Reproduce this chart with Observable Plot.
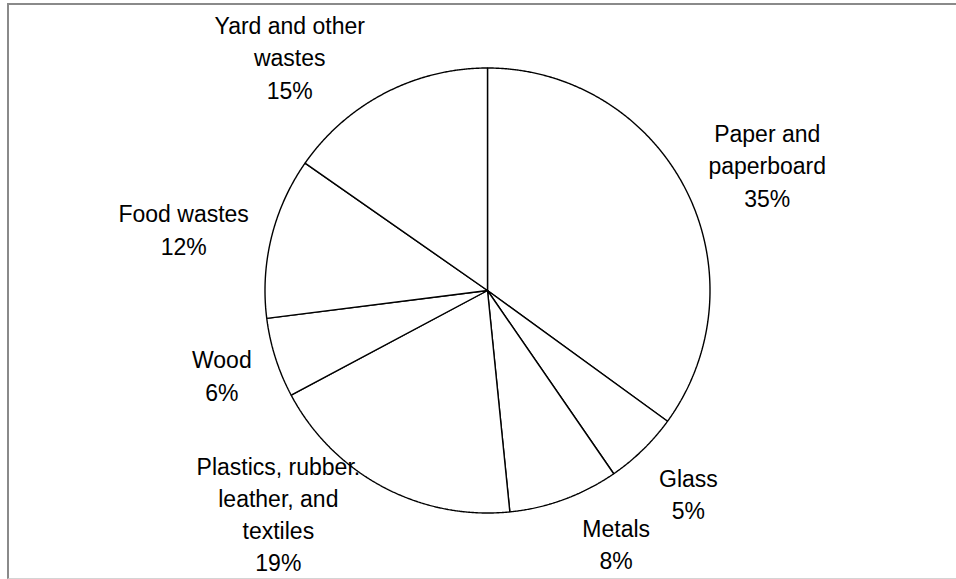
<!DOCTYPE html>
<html><head><meta charset="utf-8">
<script src="https://cdn.jsdelivr.net/npm/d3@7"></script>
<script src="https://cdn.jsdelivr.net/npm/@observablehq/plot@0.6"></script>
<style>
body{margin:0;background:#fff;}
#wrap{position:relative;width:956px;height:579px;overflow:hidden;}
#frame{position:absolute;left:7px;top:3px;width:960px;height:576px;border-left:2px solid #8a8a8a;border-top:2px solid #8a8a8a;border-bottom:1px solid #d4d4d4;box-sizing:border-box;pointer-events:none}
svg{display:block}
</style></head><body><div id="wrap"><div id="frame"></div></div>
<script>
// ---- data ----
const categories = ["Paper and\npaperboard", "Glass", "Metals", "Plastics, rubber.\nleather, and\ntextiles", "Wood", "Food wastes", "Yard and other\nwastes"];
const shares = [35.0, 5.4, 8.0, 18.8, 5.8, 11.7, 15.3];
const percentLabels = ["35%", "5%", "8%", "19%", "6%", "12%", "15%"];

// ---- layout ----
const W = 956, H = 579, CX = 487, CY = 290, R = 222.5;
const labelRadius = 1.3;
const labelNudge = [[22, 5], [-1, -5], [29, -19], [-73, -33], [10, -4], [-23, 7], [-64, 22]];

const arcs = d3.pie().sort(null).value(d => d)(shares);

const slicePts = [];
arcs.forEach((a, i) => {
  const n = Math.max(2, Math.ceil((a.endAngle - a.startAngle) / 0.005));
  slicePts.push({i, x: 0, y: 0});
  for (let k = 0; k <= n; k++) {
    const t = a.startAngle + (a.endAngle - a.startAngle) * k / n;
    slicePts.push({i, x: R * Math.sin(t), y: -R * Math.cos(t)});
  }
  slicePts.push({i, x: 0, y: 0});
});

const labels = arcs.map((a, i) => {
  const m = (a.startAngle + a.endAngle) / 2;
  return {
    x: R * labelRadius * Math.sin(m) + labelNudge[i][0],
    y: -R * labelRadius * Math.cos(m) + labelNudge[i][1],
    text: categories[i] + "\n" + percentLabels[i]
  };
});

const chart = Plot.plot({
  width: W, height: H,
  margin: 0,
  x: {domain: [-CX, W - CX], range: [0, W], axis: null},
  y: {domain: [-CY, H - CY], range: [0, H], axis: null},
  style: {background: "transparent"},
  marks: [
    Plot.line(slicePts, {x: "x", y: "y", z: "i", fill: "white", stroke: "black", strokeWidth: 1.4, curve: "linear", strokeLinejoin: "miter"}),
    Plot.text(labels, {x: "x", y: "y", text: "text", fontSize: 23, lineHeight: 1.4, fill: "black", textAnchor: "middle", fontFamily: "'Liberation Sans', Arial, sans-serif"})
  ]
});
document.getElementById("wrap").appendChild(chart);
</script>
</body></html>
